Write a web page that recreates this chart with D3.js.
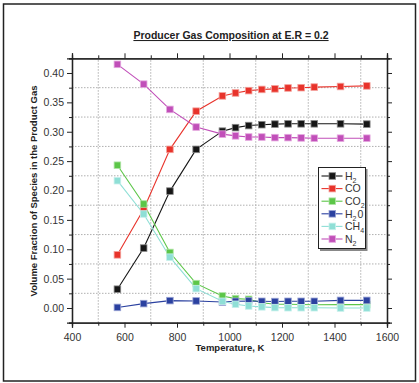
<!DOCTYPE html>
<html>
<head>
<meta charset="utf-8">
<script src="https://cdn.jsdelivr.net/npm/d3@7"></script>
<style>
  body { margin: 0; background: white; }
  text { font-family: "Liberation Sans", Arial, sans-serif; }
</style>
</head>
<body>
<div id="chart"></div>
<script>
// ----- Data -------
const temps = [573, 673, 773, 873, 973, 1023, 1073, 1123, 1173, 1223, 1273, 1323, 1423, 1523];
const h2  = [0.032, 0.102, 0.199, 0.270, 0.301, 0.307, 0.3105, 0.312, 0.313, 0.3135, 0.3135, 0.3135, 0.3135, 0.313];
const co  = [0.0905, 0.168, 0.270, 0.335, 0.361, 0.366, 0.370, 0.372, 0.373, 0.3745, 0.375, 0.376, 0.377, 0.378];
const co2 = [0.243, 0.177, 0.0945, 0.0415, 0.0205, 0.016, 0.0148, 0.009, 0.0063, 0.0063, 0.006, 0.0055, 0.0058, 0.0058];
const h2o = [0.001, 0.0075, 0.0126, 0.012, 0.0102, 0.0114, 0.012, 0.0114, 0.011, 0.0114, 0.0114, 0.0114, 0.013, 0.013];
const ch4 = [0.2167, 0.160, 0.0865, 0.033, 0.0114, 0.0063, 0.0035, 0.002, 0.0007, 0.0005, 0.0005, 0.0005, 0.0, 0.0];
const n2  = [0.4147, 0.381, 0.338, 0.308, 0.296, 0.293, 0.291, 0.291, 0.290, 0.290, 0.2895, 0.289, 0.289, 0.289];

const series = [
  { name: "H", sub: "2", after: "",  values: h2,  color: "#161616", edge: "#888" },
  { name: "CO", sub: "", after: "",  values: co,  color: "#e8332b", edge: "#f4a09a" },
  { name: "CO", sub: "2", after: "", values: co2, color: "#5cc648", edge: "#b0e4a6" },
  { name: "H", sub: "2", after: "0", values: h2o, color: "#2b41a0", edge: "#9aa4d4" },
  { name: "CH", sub: "4", after: "", values: ch4, color: "#8fdfd6", edge: "#c8f0ec" },
  { name: "N", sub: "2", after: "",  values: n2,  color: "#c14fb9", edge: "#e4a8de" }
];
const xMajor = [400, 600, 800, 1000, 1200, 1400, 1600];
const xMinor = [500, 700, 900, 1100, 1300, 1500];
const yMajor = [0, 0.05, 0.10, 0.15, 0.20, 0.25, 0.30, 0.35, 0.40];
const yMinor = [-0.025, 0.025, 0.075, 0.125, 0.175, 0.225, 0.275, 0.325, 0.375, 0.425];

const svg = d3.select("#chart").append("svg").attr("width", 419).attr("height", 383);

// ----- Outer frame -------
svg.append('rect')
  .attr('x', 3.5)
  .attr('y', 4)
  .attr('width', 412)
  .attr('height', 377)
  .attr('fill', 'white')
  .attr('stroke', '#222')
  .attr('stroke-width', 1.5);

const x = d3.scaleLinear().domain([400, 1600]).range([72, 387]);
const y = d3.scaleLinear().domain([-0.025, 0.425]).range([322.7, 58.3]);

// ----- Grid -------
svg.append('g').selectAll('line').data(xMinor).join('line')
  .attr('x1', d => x(d)).attr('x2', d => x(d))
  .attr('y1', y.range()[0]).attr('y2', y.range()[1])
  .attr('stroke', '#b0b0b0').attr('stroke-dasharray', '1.5,1.5');

svg.append('g').selectAll('line').data(yMinor.slice(1, -1)).join('line')
  .attr('x1', x.range()[0]).attr('x2', x.range()[1])
  .attr('y1', d => y(d)).attr('y2', d => y(d))
  .attr('stroke', '#b0b0b0').attr('stroke-dasharray', '1.5,1.5');

// ----- Axes -------
function styleAxis(g) {
  g.selectAll('.domain').attr('stroke', '#222').attr('stroke-width', 1.3);
  g.selectAll('.tick line').attr('stroke', '#222');
  g.selectAll('.tick text').attr('fill', '#333').style('font-size', '10.5px')
    .style('font-family', '"Liberation Sans", Arial, sans-serif');
}

svg.append('g').attr('transform', `translate(0,${y.range()[0]})`)
  .call(d3.axisBottom(x).tickValues(xMajor).tickSize(5).tickPadding(6).tickFormat(d3.format('d')))
  .call(styleAxis);
svg.append('g').attr('transform', `translate(0,${y.range()[0]})`)
  .call(d3.axisBottom(x).tickValues(xMinor).tickSize(3).tickFormat(''))
  .call(styleAxis);
svg.append('g').attr('transform', `translate(0,${y.range()[1]})`)
  .call(d3.axisTop(x).tickValues(xMajor).tickSize(5).tickFormat(''))
  .call(styleAxis);
svg.append('g').attr('transform', `translate(0,${y.range()[1]})`)
  .call(d3.axisTop(x).tickValues(xMinor).tickSize(3).tickFormat(''))
  .call(styleAxis);

svg.append('g').attr('transform', `translate(${x.range()[0]},0)`)
  .call(d3.axisLeft(y).tickValues(yMajor).tickSize(5).tickPadding(3).tickFormat(d3.format('.2f')))
  .call(styleAxis);
svg.append('g').attr('transform', `translate(${x.range()[0]},0)`)
  .call(d3.axisLeft(y).tickValues(yMinor).tickSize(3).tickFormat(''))
  .call(styleAxis);
svg.append('g').attr('transform', `translate(${x.range()[1]},0)`)
  .call(d3.axisRight(y).tickValues(yMajor).tickSize(5).tickFormat(''))
  .call(styleAxis);
svg.append('g').attr('transform', `translate(${x.range()[1]},0)`)
  .call(d3.axisRight(y).tickValues(yMinor).tickSize(3).tickFormat(''))
  .call(styleAxis);

// ----- Series -------
const line = d3.line().x((d, i) => x(temps[i])).y(d => y(d));

series.forEach(s => {
  svg.append('path')
    .attr('d', line(s.values))
    .attr('fill', 'none')
    .attr('stroke', s.color)
    .attr('stroke-width', 1.1);
});

series.forEach(s => {
  svg.append('g').selectAll('rect').data(s.values).join('rect')
    .attr('x', (d, i) => x(temps[i]) - 3.3)
    .attr('y', d => y(d) - 3.3)
    .attr('width', 6.6)
    .attr('height', 6.6)
    .attr('fill', s.color)
    .attr('stroke', s.edge)
    .attr('stroke-width', 0.8);
});

// ----- Legend -------
svg.append('rect')
  .attr('x', 320).attr('y', 169)
  .attr('width', 47.5).attr('height', 82)
  .attr('fill', '#888');
svg.append('rect')
  .attr('x', 318.5).attr('y', 167.5)
  .attr('width', 47).attr('height', 81)
  .attr('fill', 'white')
  .attr('stroke', '#222');

const legendY = d3.scaleLinear().domain([0, 5]).range([176, 239]);
series.forEach((s, i) => {
  const ly = legendY(i);
  svg.append('line')
    .attr('x1', 321.5).attr('x2', 342.5)
    .attr('y1', ly).attr('y2', ly)
    .attr('stroke', s.color).attr('stroke-width', 1.1);
  svg.append('rect')
    .attr('x', 329).attr('y', ly - 3.3)
    .attr('width', 6.6).attr('height', 6.6)
    .attr('fill', s.color).attr('stroke', s.edge).attr('stroke-width', 0.8);
  const t = svg.append('text')
    .attr('x', 345).attr('y', ly + 3.8)
    .attr('fill', '#333')
    .style('font-size', '10.5px')
    .text(s.name);
  if (s.sub) {
    t.append('tspan').attr('dy', 3).style('font-size', '7px').text(s.sub);
  }
  if (s.after) {
    t.append('tspan').attr('dy', -3).attr('dx', 1).text(s.after);
  }
});

// ----- Titles -------
svg.append('text')
  .attr('x', 231)
  .attr('y', 39)
  .attr('text-anchor', 'middle')
  .attr('fill', '#222')
  .style('font-size', '10.5px')
  .style('font-weight', 'bold')
  .style('text-decoration', 'underline')
  .text('Producer Gas Composition at E.R = 0.2');

svg.append('text')
  .attr('x', 230)
  .attr('y', 351)
  .attr('text-anchor', 'middle')
  .attr('fill', '#222')
  .style('font-size', '9.5px')
  .style('font-weight', 'bold')
  .text('Temperature, K');

svg.append('text')
  .attr('transform', 'translate(36.5,191) rotate(-90)')
  .attr('text-anchor', 'middle')
  .attr('fill', '#222')
  .style('font-size', '9.5px')
  .style('font-weight', 'bold')
  .text('Volume Fraction of Species in the Product Gas');
</script>
</body>
</html>
